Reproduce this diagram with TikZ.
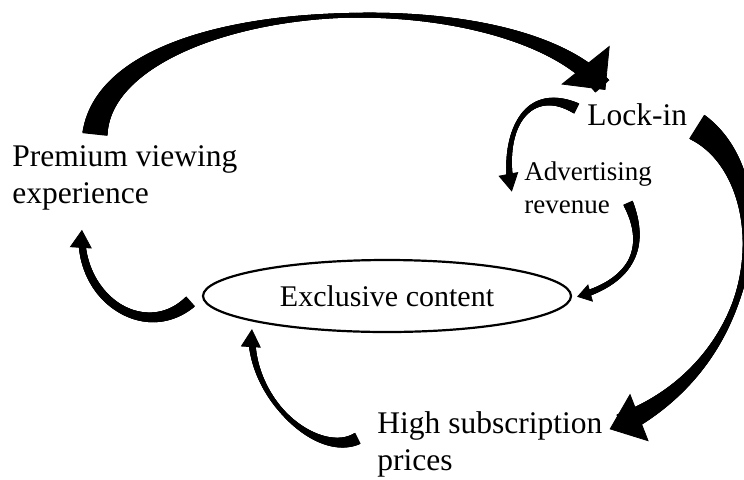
\documentclass[tikz,border=0pt]{standalone}
\usepackage{fontspec}
\setmainfont{Liberation Serif}
\usetikzlibrary{arrows.meta,shapes.geometric,decorations.markings}

\tikzset{
  txt/.style={inner sep=0pt, align=left, font=\fontsize{15.75}{18.5}\selectfont},
  smalltxt/.style={txt, font=\fontsize{13.5}{16.5}\selectfont},
  % tail width, middle width, end width, head width, head length (pt)
  flow/.style n args={5}{
    postaction={decorate, decoration={markings,
      mark=between positions 0 and -0.6*#5pt step 0.3pt with {%
        \pgfmathsetmacro\tpos{\pgfkeysvalueof{/pgf/decoration/mark info/distance from start}/\pgfdecoratedpathlength}%
        \pgfmathsetmacro\twid{\tpos<0.5 ? #2+(#1-#2)*(abs(1-2*\tpos)+0.001)^1.6 : #2+(#3-#2)*(abs(2*\tpos-1)+0.001)^1.6}%
        \fill (-0.5pt,-\twid pt/2) rectangle (0.5pt,\twid pt/2);}}},
    postaction={decorate, decoration={markings,
      mark=at position -0.5pt with {\arrow{Triangle[width=#4pt,length=#5pt]}}}}}
}

\begin{document}
\begin{tikzpicture}[x=0.5pt,y=0.5pt]
    \useasboundingbox (0,0) rectangle (744,479);
    \node[txt, anchor=north west] (prem) at (12,333.5) {Premium viewing\\experience};
    \node[txt, anchor=base west] (lock) at (587,354) {Lock-in};
    \node[smalltxt, anchor=north west] (adv) at (524,317.4) {Advertising\\revenue};
    \node[draw, ellipse, inner sep=0pt, line width=1.1pt, minimum width=184pt, minimum height=36pt,
          font=\fontsize{15}{18}\selectfont] (excl) at (387,183) {Exclusive content};
    \node[txt, anchor=north west] (high) at (377,67.5) {High subscription\\prices};

    \path[flow={12.5}{2.3}{10}{31}{16}] ([shift={(83,12)}]prem.north west)
        .. controls +(15,140) and +(-90,115) .. ([shift={(19,12)}]lock.north west);
    \path[flow={5.5}{2.2}{3.5}{10}{9}] ([shift={(-11,6)}]lock.west)
        .. controls +(-50,25) and +(-12,60) .. ([shift={(-12,-31)}]adv.north west);
    \path[flow={5}{2.5}{3.2}{9}{7}] ([shift={(-24,-42)}]adv.north east)
        .. controls +(20,-45) and +(55,15) .. ([shift={(4,-1)}]excl.east);
    \path[flow={6.5}{4}{3.2}{11}{9}] ([shift={(-12,-6)}]excl.west)
        .. controls +(-45,-40) and +(-5,-70) .. ([shift={(70,-18)}]prem.south west);
    \path[flow={6}{2.2}{3.8}{10}{9}] ([shift={(-20,6)}]high.west)
        .. controls +(-40,-20) and +(-5,-70) .. ([shift={(-135,5)}]excl.south);
    \path[flow={14}{3}{12}{25.5}{16}] ([shift={(10,-13)}]lock.east)
        .. controls +(83,-52) and +(158,61) .. ([shift={(6,-18)}]high.north east);
\end{tikzpicture}
\end{document}
